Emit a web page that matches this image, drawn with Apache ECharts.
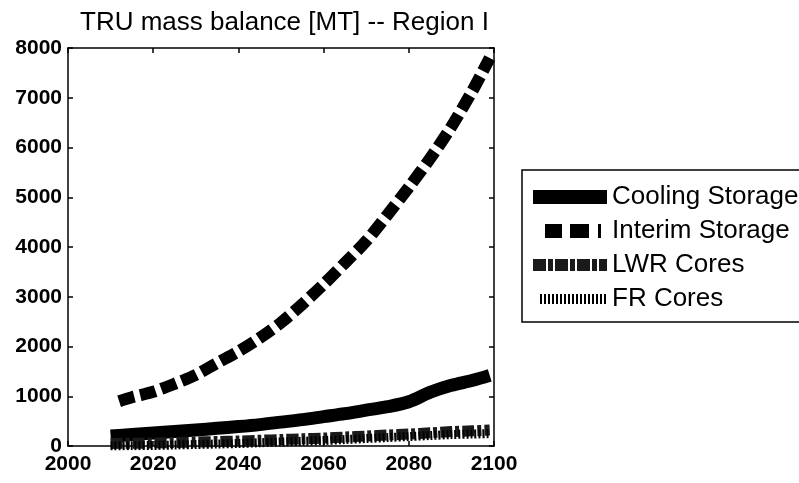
<!DOCTYPE html>
<html>
<head>
<meta charset="utf-8">
<title>TRU mass balance</title>
<script src="https://cdn.jsdelivr.net/npm/echarts@6/dist/echarts.min.js"></script>
<style>
  html, body { margin: 0; padding: 0; background: #fff; }
  #chart { width: 799px; height: 483px; }
</style>
</head>
<body>
<div id="chart"></div>
<script>
// values (MT)
const years = [2010, 2015, 2020, 2025, 2030, 2035, 2040, 2045, 2050, 2055, 2060, 2065, 2070, 2075, 2080, 2085, 2090, 2095, 2099];
const cooling = [200, 230, 260, 290, 320, 355, 390, 430, 480, 530, 590, 650, 720, 790, 890, 1080, 1220, 1320, 1420];
const lwrCores = [50, 55, 60, 70, 80, 90, 100, 115, 130, 145, 160, 180, 200, 220, 240, 265, 290, 305, 320];
const frCores = [0, 5, 10, 20, 30, 40, 50, 65, 80, 95, 110, 130, 150, 170, 190, 210, 230, 240, 250];

const interimYears = [2012, 2015, 2020, 2025, 2030, 2035, 2040, 2045, 2050, 2055, 2060, 2065, 2070, 2075, 2080, 2085, 2090, 2095, 2099];
const interim = [900, 980, 1090, 1250, 1430, 1670, 1900, 2170, 2480, 2850, 3250, 3680, 4120, 4650, 5200, 5780, 6420, 7150, 7800];

const seriesNames = ["Cooling Storage", "Interim Storage", "LWR Cores", "FR Cores"];

const pairs = (xs, ys) => xs.map((x, i) => [x, ys[i]]);

// legend swatches in a 74x14 box; the bare M0,0 / M74,14 pin the box size
function swatch(rects) {
  let d = "M0,0 M74,14 ";
  rects.forEach(([x, y, w, h]) => {
    d += `M${x},${y}h${w}v${h}h${-w}Z `;
  });
  return "path://" + d;
}
function bars(from, to, step, w, y, h) {
  const out = [];
  for (let x = from; x + w <= to; x += step) out.push([x, y, w, h]);
  return out;
}
const legendIcons = [
  swatch([[0, 0, 74, 14]]),
  swatch([[12, 0, 17, 14], [37, 0, 19, 14], [65, 0, 3, 14]]),
  swatch([[0, 1, 13, 12], [15, 1, 5, 12], [22, 1, 13, 12], [37, 1, 5, 12], [44, 1, 13, 12], [59, 1, 5, 12], [66, 1, 8, 12]]),
  swatch(bars(7, 73, 4, 2, 2, 10)),
];

const chart = echarts.init(document.getElementById("chart"));

const tickFont = {
  color: "#000",
  fontSize: 21,
  fontWeight: "bold",
  fontFamily: "Liberation Sans, Arial, sans-serif",
  formatter: (v) => String(v),
};
const axisLine = { show: true, onZero: false, lineStyle: { color: "#000", width: 1.5 } };
const axisTick = { show: true, inside: true, length: 5, lineStyle: { color: "#000", width: 1.5 } };

function line(name, data, width, type, color) {
  return {
    name,
    type: "line",
    data,
    symbol: "none",
    smooth: 0.3,
    animation: false,
    lineStyle: { color, width, type, cap: "butt", join: "miter" },
    itemStyle: { color },
  };
}

chart.setOption({
  backgroundColor: "#fff",
  title: {
    text: "TRU mass balance [MT] -- Region I",
    left: 75,
    top: 5,
    textStyle: {
      color: "#000",
      fontSize: 26,
      fontWeight: "normal",
      fontFamily: "Liberation Sans, Arial, sans-serif",
    },
  },
  grid: { left: 68, right: 305, top: 48, bottom: 37 },
  legend: {
    orient: "vertical",
    left: 528,
    top: 179,
    itemWidth: 74,
    itemHeight: 14,
    itemGap: 8,
    data: seriesNames.map((name, i) => ({ name, icon: legendIcons[i] })),
    textStyle: {
      color: "#000",
      fontSize: 26,
      fontFamily: "Liberation Sans, Arial, sans-serif",
    },
  },
  graphic: [
    {
      type: "rect",
      shape: { x: 522, y: 170, width: 300, height: 152 },
      style: { fill: "none", stroke: "#000", lineWidth: 1.5 },
      z: 0,
    },
  ],
  xAxis: [
    {
      type: "value",
      min: 2000,
      max: 2100,
      interval: 20,
      axisLine,
      axisTick,
      splitLine: { show: false },
      axisLabel: Object.assign({ margin: 8 }, tickFont),
    },
    {
      type: "value",
      position: "top",
      min: 2000,
      max: 2100,
      interval: 20,
      axisLine,
      axisTick,
      splitLine: { show: false },
      axisLabel: { show: false },
    },
  ],
  yAxis: [
    {
      type: "value",
      min: 0,
      max: 8000,
      interval: 1000,
      axisLine,
      axisTick,
      splitLine: { show: false },
      axisLabel: Object.assign({ margin: 6 }, tickFont),
    },
    {
      type: "value",
      position: "right",
      min: 0,
      max: 8000,
      interval: 1000,
      axisLine,
      axisTick,
      splitLine: { show: false },
      axisLabel: { show: false },
    },
  ],
  series: [
    line(seriesNames[0], pairs(years, cooling), 13, "solid", "#000"),
    line(seriesNames[1], pairs(interimYears, interim), 12, [16, 6], "#000"),
    line(seriesNames[2], pairs(years, lwrCores), 11, [12, 3, 4, 3], "#1a1a1a"),
    line(seriesNames[3], pairs(years, frCores), 9, [2, 2], "#000"),
  ],
});
</script>
</body>
</html>
